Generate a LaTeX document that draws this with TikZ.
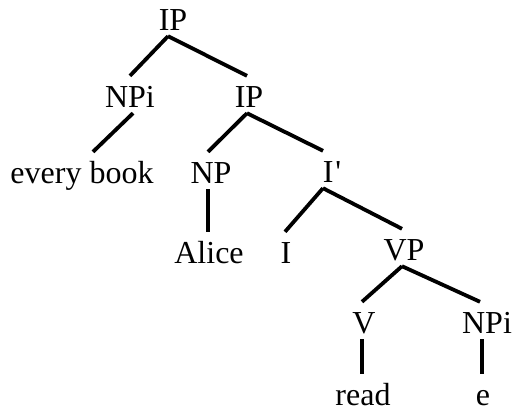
\documentclass[tikz,border=0pt]{standalone}
\usepackage{fontspec}
\setmainfont{Liberation Serif}
\usepackage{tikz}

\begin{document}
\begin{tikzpicture}[x=1pt,y=-1pt]
\tikzstyle{every node}+=[inner sep=0pt, anchor=base, text height=31pt, text depth=6pt, font=\fontsize{32}{38}\selectfont]
\tikzstyle{leaf}=[text depth=0pt]
\tikzstyle{branch}=[black, line width=3.8pt]
\useasboundingbox (0,0) rectangle (513,413);
% nodes
\node (ip) at (173,30) {IP};
\node (npi) at (130,107) {NPi};
\node (ipb) at (249,107) {IP};
\node (book) at (82,183) {every book};
\node (np) at (211,183) {NP};
\node (ibar) at (332,182) {I\kern2pt\textquotesingle};
\node (alice) at (209,263) {Alice};
\node (infl) at (286,263) {I};
\node (vp) at (404,260) {VP};
\node (v) at (364,333) {V};
\node (npib) at (487,333) {NPi};
\node [leaf] (read) at (363,405) {read};
\node [leaf] (e) at (483,405) {e};
% branches
\draw [branch] ([xshift=-5pt]ip.south) -- (npi.north);
\draw [branch] ([xshift=-5pt]ip.south) -- ([xshift=-2pt]ipb.north);
\draw [branch] ([xshift=3pt]npi.south) -- ([xshift=11pt]book.north);
\draw [branch] ([xshift=-2pt]ipb.south) -- ([xshift=-3pt]np.north);
\draw [branch] ([xshift=-2pt]ipb.south) -- ([xshift=-9pt]ibar.north);
\draw [branch] ([xshift=-3pt]np.south) -- ([xshift=-1pt]alice.north);
\draw [branch] ([xshift=-9pt]ibar.south) -- ([xshift=-1pt]infl.north);
\draw [branch] ([xshift=-9pt]ibar.south) -- ([xshift=-2pt]vp.north);
\draw [branch] ([xshift=-2pt]vp.south) -- ([xshift=-2pt]v.north);
\draw [branch] ([xshift=-2pt]vp.south) -- ([xshift=-7pt]npib.north);
\draw [branch] ([xshift=-2pt]v.south) -- ([xshift=-1pt]read.north);
\draw [branch] ([xshift=-5pt]npib.south) -- ([xshift=-1pt]e.north);
\end{tikzpicture}
\end{document}
